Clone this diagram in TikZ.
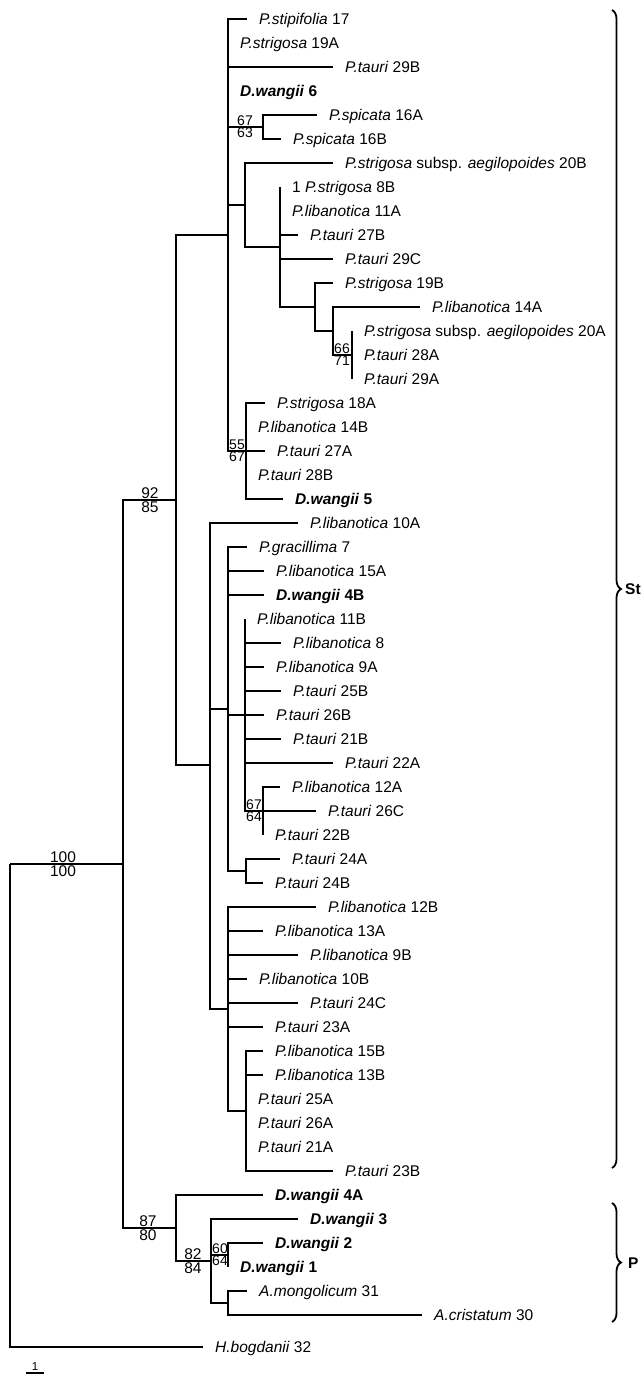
\documentclass[tikz,border=0pt]{standalone}
\usepackage{fontspec}
\setmainfont{Liberation Sans}
\usetikzlibrary{decorations.pathreplacing}

\begin{document}
\begin{tikzpicture}[x=1pt, y=-1pt,
  br/.style={line width=2.1pt},
  taxon/.style={anchor=base west, inner sep=0pt, xshift=12pt, yshift=-5.5pt, font=\fontsize{15.5}{18}\selectfont},
  boot/.style={inner sep=1.5pt, font=\fontsize{15.5}{18}\selectfont},
  bootp/.style={inner sep=0.8pt, font=\fontsize{14}{16}\selectfont},
  accol/.style={line width=1.8pt, decorate, decoration={brace, amplitude=9pt}},
  clade/.style={anchor=west, inner sep=0pt, font=\fontsize{15.5}{18}\selectfont\bfseries}]
  \useasboundingbox (0,0) rectangle (644,1376);

  % Noeuds internes
  \foreach \nom/\xx/\yy in {R/10/864, ING/123/864, ST/176/500, A/228/235, S67/263/127,
      B/245/205, C/280/247, D/315/307, E/333/331, F/352/355, G55/246/451,
      L/210/765, M/228/709, O/245/715, P67/263/811, K24/246/871, N/228/1009,
      Q/246/1111, PC/176/1228, P2/211/1261, P3/228/1255, P4/228/1303}
    \coordinate (\nom) at (\xx,\yy);

  % Branches internes
  \foreach \pa/\nom in {R/ING, ING/ST, ING/PC, ST/A, ST/L, A/S67, A/B, A/G55,
      B/C, C/D, D/E, E/F, L/M, L/N, M/O, M/K24, O/P67, N/Q, PC/P2, P2/P3, P2/P4}
    \draw[br] (\pa) |- (\nom);

  % Feuilles (parent / nom / x / y / texte)
  \foreach \pa/\nom/\xx/\yy/\lab in {
      A/stip/247/19/{\textit{P.stipifolia} 17},
      A/s19A/228/43/{\textit{P.strigosa} 19A},
      A/t29B/333/67/{\textit{P.tauri} 29B},
      A/w6/228/91/{\textbf{\textit{D.wangii} 6}},
      S67/sp16A/317/115/{\textit{P.spicata} 16A},
      S67/sp16B/281/139/{\textit{P.spicata} 16B},
      B/a20B/333/163/{\textit{P.strigosa} subsp. \textit{aegilopoides} 20B},
      C/s8B/280/187/{1 \textit{P.strigosa} 8B},
      C/l11A/280/211/{\textit{P.libanotica} 11A},
      C/t27B/298/235/{\textit{P.tauri} 27B},
      C/t29C/333/259/{\textit{P.tauri} 29C},
      D/s19B/333/283/{\textit{P.strigosa} 19B},
      E/l14A/420/307/{\textit{P.libanotica} 14A},
      F/a20A/352/331/{\textit{P.strigosa} subsp. \textit{aegilopoides} 20A},
      F/t28A/352/355/{\textit{P.tauri} 28A},
      F/t29A/352/379/{\textit{P.tauri} 29A},
      G55/s18A/265/403/{\textit{P.strigosa} 18A},
      G55/l14B/246/427/{\textit{P.libanotica} 14B},
      G55/t27A/265/451/{\textit{P.tauri} 27A},
      G55/t28B/246/475/{\textit{P.tauri} 28B},
      G55/w5/283/499/{\textbf{\textit{D.wangii} 5}},
      L/l10A/298/523/{\textit{P.libanotica} 10A},
      M/grac/247/547/{\textit{P.gracillima} 7},
      M/l15A/264/571/{\textit{P.libanotica} 15A},
      M/w4B/264/595/{\textbf{\textit{D.wangii} 4B}},
      O/l11B/245/619/{\textit{P.libanotica} 11B},
      O/l8/281/643/{\textit{P.libanotica} 8},
      O/l9A/264/667/{\textit{P.libanotica} 9A},
      O/t25B/281/691/{\textit{P.tauri} 25B},
      O/t26B/264/715/{\textit{P.tauri} 26B},
      O/t21B/281/739/{\textit{P.tauri} 21B},
      O/t22A/333/763/{\textit{P.tauri} 22A},
      P67/l12A/280/787/{\textit{P.libanotica} 12A},
      P67/t26C/316/811/{\textit{P.tauri} 26C},
      P67/t22B/263/835/{\textit{P.tauri} 22B},
      K24/t24A/280/859/{\textit{P.tauri} 24A},
      K24/t24B/263/883/{\textit{P.tauri} 24B},
      N/l12B/316/907/{\textit{P.libanotica} 12B},
      N/l13A/263/931/{\textit{P.libanotica} 13A},
      N/l9B/298/955/{\textit{P.libanotica} 9B},
      N/l10B/247/979/{\textit{P.libanotica} 10B},
      N/t24C/298/1003/{\textit{P.tauri} 24C},
      N/t23A/263/1027/{\textit{P.tauri} 23A},
      Q/l15B/263/1051/{\textit{P.libanotica} 15B},
      Q/l13B/263/1075/{\textit{P.libanotica} 13B},
      Q/t25A/246/1099/{\textit{P.tauri} 25A},
      Q/t26A/246/1123/{\textit{P.tauri} 26A},
      Q/t21A/246/1147/{\textit{P.tauri} 21A},
      Q/t23B/333/1171/{\textit{P.tauri} 23B},
      PC/w4A/263/1195/{\textbf{\textit{D.wangii} 4A}},
      P2/w3/298/1219/{\textbf{\textit{D.wangii} 3}},
      P3/w2/263/1243/{\textbf{\textit{D.wangii} 2}},
      P3/w1/228/1267/{\textbf{\textit{D.wangii} 1}},
      P4/mong/247/1291/{\textit{A.mongolicum} 31},
      P4/crist/422/1315/{\textit{A.cristatum} 30},
      R/hbog/203/1347/{\textit{H.bogdanii} 32}} {
    \coordinate (\nom) at (\xx,\yy);
    \draw[br] (\pa) |- (\nom);
    \node[taxon] (t\nom) at (\nom) {\lab};
  }

  % Valeurs de bootstrap
  \node[boot, above] (b100h) at (63,864) {100};
  \node[boot, below] (b100b) at (63,864) {100};
  \node[boot, above] (b92) at (150,500) {92};
  \node[boot, below] (b85) at (150,500) {85};
  \node[boot, above] (b87) at (148,1228) {87};
  \node[boot, below] (b80) at (148,1228) {80};
  \node[boot, above] (b82) at (193,1261) {82};
  \node[boot, below] (b84) at (193,1261) {84};
  \node[bootp, above] (b67h) at (245,127) {67};
  \node[bootp, below] (b63) at (245,127) {63};
  \node[bootp, above] (b55) at (237,451) {55};
  \node[bootp, below] (b67m) at (237,451) {67};
  \node[bootp, above] (b66) at (342,355) {66};
  \node[bootp, below] (b71) at (342,355) {71};
  \node[bootp, above] (b67b) at (254,811) {67};
  \node[bootp, below] (b64b) at (254,811) {64};
  \node[bootp, above] (b60) at (220,1255) {60};
  \node[bootp, below] (b64) at (220,1255) {64};

  % Accolades des génomes
  \coordinate (stH) at (612,10);
  \coordinate (stB) at (612,1168);
  \draw[accol] (stH) -- (stB);
  \node[clade] (lSt) at (625,589) {St};
  \coordinate (pH) at (612,1203);
  \coordinate (pB) at (612,1322);
  \draw[accol] (pH) -- (pB);
  \node[clade] (lP) at (628,1263) {P};

  % Echelle
  \coordinate (e0) at (26,1373);
  \coordinate (e1) at (44,1373);
  \draw[br] (e0) -- (e1);
  \node[inner sep=1pt, above, font=\fontsize{11.5}{13}\selectfont] (lech) at (35,1372) {1};
\end{tikzpicture}
\end{document}
